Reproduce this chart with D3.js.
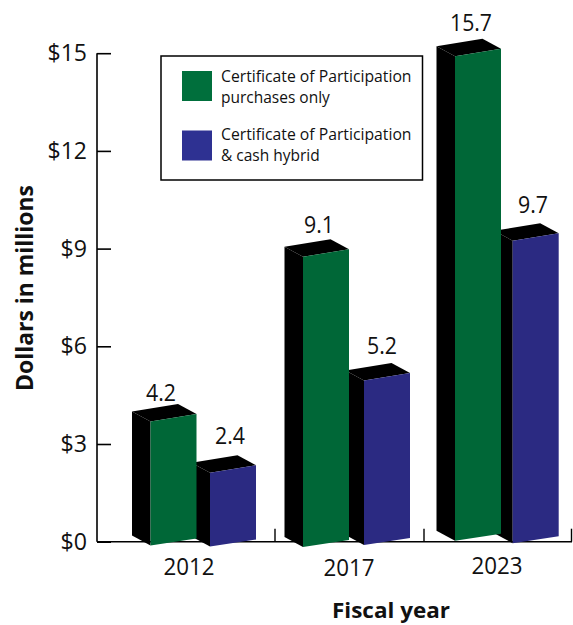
<!DOCTYPE html>
<html><head><meta charset="utf-8">
<script src="https://cdn.jsdelivr.net/npm/d3@7"></script>
<style>html,body{margin:0;padding:0;background:#fff}svg{display:block}text{font-family:"Open Sans",sans-serif;fill:#111}</style>
</head><body><svg id="c" width="573" height="625"></svg>
<script>
// Data
const years = ["2012","2017","2023"];
const purchasesOnly = [4.2, 9.1, 15.7];   // labelled values
const cashHybrid    = [2.4, 5.2, 9.7];
// Heights as actually drawn against the axis (front-right top corner of each bar)
const purchasesDrawn = [3.92, 8.98, 15.14];
const hybridDrawn    = [2.35, 5.18, 9.47];
// Bottom of each bar as drawn against the axis (front-left corner)
const purchasesBase = [-0.12, -0.16, 0.03];
const hybridBase    = [-0.15, -0.10, -0.05];
const yTicks = [0,3,6,9,12,15];
const legendLabels = [["Certificate of Participation","purchases only"],["Certificate of Participation","& cash hybrid"]];

// Colours + layout
const GREEN="#006737", BLUE="#2b2a82", GREEN_L="#006f3c", BLUE_L="#2e3192";
const svg=d3.select("#c");
const y=d3.scaleLinear().domain([0,15]).range([541.7,53.2]);
const xG=d3.scaleOrdinal().domain(years).range([150.5,303,455]);
const xB=d3.scaleOrdinal().domain(years).range([210,364,512.7]);
const xTick=d3.scaleOrdinal().domain(years).range([275,424,571.5]);
const xLab=d3.scaleOrdinal().domain(years).range([189,349,497]);
const labY={"2012":575,"2017":576,"2023":574};
const W=46, DX=18.5, DY=10, SKEW=7;
const NUM_SIZE=23.5;

// Axes
const axisY=svg.append("g").attr("transform","translate(97,0)")
  .call(d3.axisRight(y).tickValues(yTicks).tickSize(14).tickFormat(""));
axisY.selectAll("path").attr("d",`M0,${y(15)}V${y(0)}`).attr("stroke","#000").attr("stroke-width",1.6);
axisY.selectAll("line").attr("stroke","#000").attr("stroke-width",1.6);
svg.selectAll(".yl").data(yTicks).join("text").attr("class","yl")
  .attr("x",87).attr("y",d=>y(d)+8).attr("text-anchor","end").attr("font-size",NUM_SIZE)
  .attr("textLength",d=>d>=10?39.5:26.5).attr("lengthAdjust","spacingAndGlyphs")
  .text(d=>"$"+d);
svg.append("line").attr("x1",97).attr("x2",572).attr("y1",y(0)).attr("y2",y(0)).attr("stroke","#000").attr("stroke-width",1.6);
svg.selectAll(".xt").data(years).join("line").attr("class","xt")
  .attr("x1",d=>xTick(d)).attr("x2",d=>xTick(d)).attr("y1",y(0)).attr("y2",y(0)-13).attr("stroke","#000").attr("stroke-width",1.4);
svg.selectAll(".xl").data(years).join("text").attr("class","xl")
  .attr("x",d=>xLab(d)).attr("y",d=>labY[d]).attr("text-anchor","middle").attr("font-size",NUM_SIZE)
  .attr("textLength",51).attr("lengthAdjust","spacingAndGlyphs").text(d=>d);

// 3-D bars
function bar(x,val,base,color){
  const g=svg.append("g");
  const xl=x, xr=x+W, yt=y(val), ytl=yt+SKEW+0.5, yb=y(base), ybr=yb-SKEW;
  const path=pts=>"M"+pts.map(p=>p.join(",")).join("L")+"Z";
  g.append("path").attr("d",path([[xl,ytl],[xl-DX,ytl-DY],[xl-DX,yb-DY],[xl,yb]])).attr("fill","#000");
  g.append("path").attr("d",path([[xl,ytl],[xl-DX,ytl-DY],[xr-DX,yt-DY],[xr,yt]])).attr("fill","#000");
  g.append("path").attr("d",path([[xl,ytl],[xr,yt],[xr,ybr],[xl,yb]])).attr("fill",color);
}
years.forEach((yr,i)=>{
  bar(xB(yr),hybridDrawn[i],hybridBase[i],BLUE);
  bar(xG(yr),purchasesDrawn[i],purchasesBase[i],GREEN);
});

// Value labels
const greenLabelPos=[[161,400.5],[319,232.5],[471,31]];
const blueLabelPos=[[230,444],[382,354],[533,213]];
const valText=(vals,pos,c)=>svg.selectAll("."+c).data(vals).join("text").attr("class",c)
  .attr("x",(d,i)=>pos[i][0]).attr("y",(d,i)=>pos[i][1]).attr("text-anchor","middle").attr("font-size",NUM_SIZE)
  .attr("textLength",d=>d>=10?42:30).attr("lengthAdjust","spacingAndGlyphs")
  .text(d=>d.toFixed(1));
valText(purchasesOnly,greenLabelPos,"vg");
valText(cashHybrid,blueLabelPos,"vb");

// Legend
svg.append("rect").attr("x",161).attr("y",56).attr("width",261.5).attr("height",124).attr("fill","#fff").attr("stroke","#000").attr("stroke-width",1.5);
[[71,GREEN_L,81.5,103],[130.5,BLUE_L,140,161]].forEach((r,i)=>{
  svg.append("rect").attr("x",182).attr("y",r[0]).attr("width",30).attr("height",30).attr("fill",r[1]);
  svg.append("text").attr("x",221).attr("y",r[2]).attr("font-size",15.5).attr("textLength",190.5).attr("lengthAdjust","spacingAndGlyphs").text(legendLabels[i][0]);
  svg.append("text").attr("x",221).attr("y",r[3]).attr("font-size",15.5).text(legendLabels[i][1]);
});

// Titles
svg.append("text").attr("x",391).attr("y",618).attr("text-anchor","middle").attr("font-size",21).attr("font-weight",700).attr("textLength",118).attr("lengthAdjust","spacingAndGlyphs").text("Fiscal year");
svg.append("text").attr("transform","translate(33,288) rotate(-90)").attr("text-anchor","middle").attr("font-size",22.5).attr("font-weight",700).attr("textLength",206).attr("lengthAdjust","spacingAndGlyphs").text("Dollars in millions");
</script></body></html>
